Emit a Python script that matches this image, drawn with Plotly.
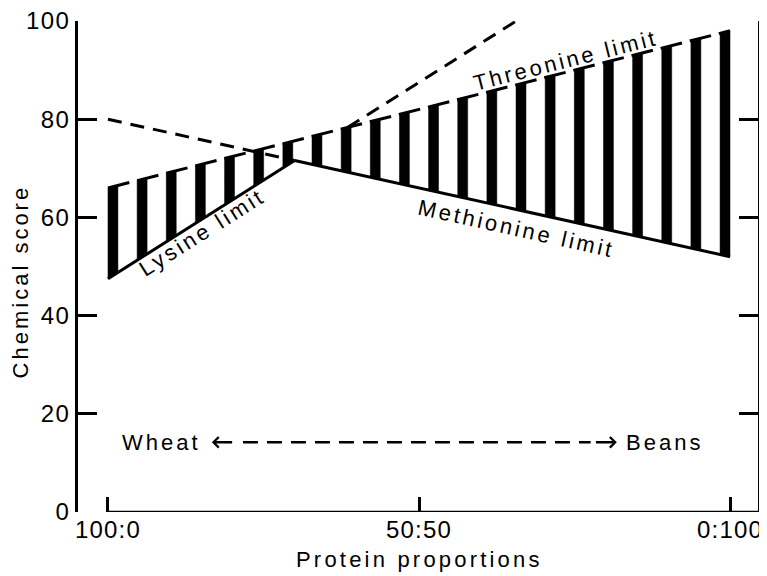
import numpy as np
import plotly.graph_objects as go

# ---------------- data ----------------
# x: proportion of bean protein in the wheat:bean mixture (0 = 100:0, 100 = 0:100)
proportion_ticks = [0, 50, 100]
proportion_labels = ["100:0", "50:50", "0:100"]
score_ticks = [0, 20, 40, 60, 80, 100]

threonine_x = [0, 100]
threonine_y = [66, 98]

methionine_x = [0, 30, 100]
methionine_y = [80, 71.6, 52]

lysine_x = [0, 30, 38.5, 66]
lysine_y = [47.5, 71.6, 78.3, 100.3]

# ---------------- style ----------------
FONT = "Liberation Sans, Arial, sans-serif"
LW = 3
DASH = "14px,9px"
N_STRIPES = 22
STRIPE_W = 1.6
X_RANGE = [-4.82, 104.5]
ROW_Y = 14.2


def sp(t, ls=3):
    return f'<span style="letter-spacing:{ls}px">{t}</span>'


def threonine(x):
    return np.interp(x, threonine_x, threonine_y)


def lower(x):
    return np.minimum(np.interp(x, lysine_x, lysine_y), np.interp(x, methionine_x, methionine_y))


fig = go.Figure()

# hatched region: vertical black stripes between the lower limit and the threonine limit
hx, hy = [], []
for xl in np.linspace(0, 100 - STRIPE_W, N_STRIPES):
    xs = np.linspace(xl, xl + STRIPE_W, 6)
    bot = lower(xs)
    top = threonine(xs)
    if np.all(top <= bot):
        continue
    top = np.maximum(top, bot)
    hx += list(xs) + list(xs[::-1]) + [xs[0], None]
    hy += list(bot) + list(top[::-1]) + [bot[0], None]
fig.add_trace(go.Scatter(x=hx, y=hy, mode="lines", fill="toself", fillcolor="black",
                         line=dict(color="black", width=0.5), hoverinfo="skip"))

# threonine limit (broken line along the stripe tops)
fig.add_trace(go.Scatter(x=threonine_x, y=threonine_y, mode="lines",
                         line=dict(color="black", width=LW, dash="22px,8px")))
# methionine limit: dashed where not limiting, solid where limiting
fig.add_trace(go.Scatter(x=methionine_x[:2], y=methionine_y[:2], mode="lines",
                         line=dict(color="black", width=LW, dash=DASH)))
fig.add_trace(go.Scatter(x=methionine_x[1:], y=methionine_y[1:], mode="lines",
                         line=dict(color="black", width=LW)))
# lysine limit: solid where limiting, dashed continuation above the threonine line
fig.add_trace(go.Scatter(x=lysine_x[:2], y=lysine_y[:2], mode="lines",
                         line=dict(color="black", width=LW)))
fig.add_trace(go.Scatter(x=lysine_x[2:], y=lysine_y[2:], mode="lines", cliponaxis=False,
                         line=dict(color="black", width=LW, dash=DASH)))

txt = dict(family=FONT, size=22, color="black")
annotations = [
    dict(x=15.1, y=57.0, text=sp("Lysine limit"), textangle=-32.3),
    dict(x=65.6, y=57.8, text=sp("Methionine limit"), textangle=12.5),
    dict(x=73.5, y=91.9, text=sp("Threonine limit"), textangle=-14.2),
    dict(x=15.3, y=ROW_Y, text=sp("Wheat"), xanchor="right"),
    dict(x=82.9, y=ROW_Y, text=sp("Beans"), xanchor="left"),
    dict(x=-0.085, xref="paper", y=0.47, yref="paper", text=sp("Chemical score", 3), textangle=-90),
    dict(x=50, y=-0.097, yref="paper", text=sp("Protein proportions", 3.2)),
]
for a in annotations:
    a.setdefault("xref", "x")
    a.setdefault("yref", "y")
    a.setdefault("xanchor", "center")
    a.update(showarrow=False, yanchor="middle", font=txt)

# direction arrows (Wheat <- - -> Beans)
for head, tail in [(16.7, 20.2), (81.8, 78.2)]:
    annotations.append(dict(x=head, y=ROW_Y, ax=tail, ay=ROW_Y, xref="x", yref="y",
                            axref="x", ayref="y", text="", showarrow=True,
                            arrowhead=4, arrowsize=0.85, arrowwidth=2.4, arrowcolor="black"))

fig.update_layout(
    width=759, height=568,
    margin=dict(l=70, r=9, t=13, b=64),
    paper_bgcolor="white", plot_bgcolor="white",
    showlegend=False,
    font=dict(family=FONT, color="black"),
    annotations=annotations,
    shapes=[
        dict(type="line", xref="x", yref="y", x0=0, x1=X_RANGE[1], y0=0, y1=0,
             line=dict(color="black", width=2.5)),
        dict(type="line", xref="x", yref="y", x0=21.7, x1=77.6, y0=ROW_Y, y1=ROW_Y,
             line=dict(color="black", width=2.5, dash="15px,9px")),
    ],
)
fig.update_xaxes(range=X_RANGE, showgrid=False, zeroline=False, showline=False,
                 ticks="inside", ticklen=15, tickwidth=2.5, tickcolor="black",
                 tickvals=proportion_ticks, ticktext=[sp(t, 1.2) for t in proportion_labels],
                 tickfont=dict(family=FONT, size=24, color="black"),
                 ticklabelstandoff=1, ticklabeloverflow="allow", automargin=False)
fig.update_yaxes(range=[0, 100], showgrid=False, zeroline=False, showline=True,
                 linecolor="black", linewidth=2.5, mirror="ticks",
                 ticks="inside", ticklen=19, tickwidth=2.5, tickcolor="black",
                 tickvals=score_ticks, ticktext=[sp(str(t), 1.5) for t in score_ticks],
                 tickfont=dict(family=FONT, size=24, color="black"),
                 ticklabelstandoff=0, ticklabeloverflow="allow", automargin=False)

fig.write_html("out.html")
